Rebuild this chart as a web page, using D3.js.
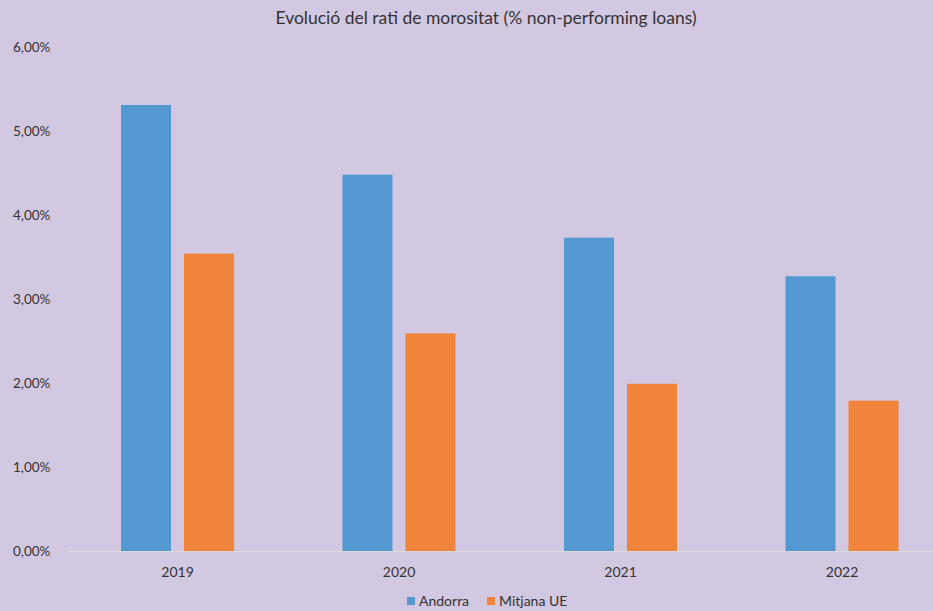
<!DOCTYPE html>
<html>
<head>
<meta charset="utf-8">
<script src="https://cdn.jsdelivr.net/npm/d3@7"></script>
<style>
html,body{margin:0;padding:0;background:#D3C8E2;overflow:hidden;}
svg{display:block;}
text{font-family:Lato,"Open Sans",sans-serif;fill:#333;}
</style>
</head>
<body>
<svg id="chart" width="933" height="611"></svg>
<script>
const years = ["2019","2020","2021","2022"];
const seriesNames = ["Andorra","Mitjana UE"];
const andorra = [5.31, 4.48, 3.73, 3.27];
const mitjanaUE = [3.54, 2.59, 1.99, 1.79];
const yTicks = [0,1,2,3,4,5,6];
const colors = ["#5398D1","#F0843B"];
const title = "Evolució del rati de morositat (% non-performing loans)";

const svg = d3.select("#chart");
svg.append("rect").attr("width",933).attr("height",611).attr("fill","#D3C8E2");

const x = d3.scaleBand().domain(years).range([66.75, 952.75]);
const y = d3.scaleLinear().domain([0,6]).range([551, 47]);
const xs = d3.scaleBand().domain(seriesNames).range([0, x.bandwidth()]).paddingInner(0.206).paddingOuter(0.861);

const values = [andorra, mitjanaUE];

// baseline
svg.append("line").attr("x1",67).attr("x2",953).attr("y1",y(0)+0.5).attr("y2",y(0)+0.5)
  .attr("stroke","#D9D9D9").attr("stroke-width",1.2);

// y axis labels
const yAxis = d3.axisLeft(y).tickValues(yTicks).tickSize(0)
  .tickFormat(d => d3.format(".2f")(d).replace(".",",") + "%");
const ga = svg.append("g").attr("transform","translate(13,0)").call(yAxis);
ga.select(".domain").remove();
ga.selectAll("text").attr("text-anchor","start").attr("x",0).attr("dy","0.35em")
  .style("font-size","13.5px").style("font-family","Lato,'Open Sans',sans-serif").attr("fill","#333");

// bars
seriesNames.forEach((s, si) => {
  svg.append("g").selectAll("rect").data(years).join("rect")
    .attr("x", d => x(d) + xs(s))
    .attr("width", xs.bandwidth())
    .attr("y", (d,i) => y(values[si][i]))
    .attr("height", (d,i) => y(0) - y(values[si][i]))
    .attr("fill", colors[si]);
});

// x axis labels
const xAxis = d3.axisBottom(x).tickSize(0);
const gx = svg.append("g").attr("transform",`translate(0,${y(0)})`).call(xAxis);
gx.select(".domain").remove();
gx.selectAll("text").attr("dy","0").attr("y",26)
  .style("font-size","14px").style("font-family","Lato,'Open Sans',sans-serif").attr("fill","#333");

// title
svg.append("text").attr("x",486).attr("y",24).attr("text-anchor","middle")
  .style("font-size","17.5px").text(title);

// legend
const legend = [{name:seriesNames[0], x:407},{name:seriesNames[1], x:487}];
legend.forEach((l,i)=>{
  svg.append("rect").attr("x",l.x).attr("y",597).attr("width",8).attr("height",8).attr("fill",colors[i]);
  svg.append("text").attr("x",l.x+12).attr("y",606).style("font-size","14px").text(l.name);
});
</script>
</body>
</html>
